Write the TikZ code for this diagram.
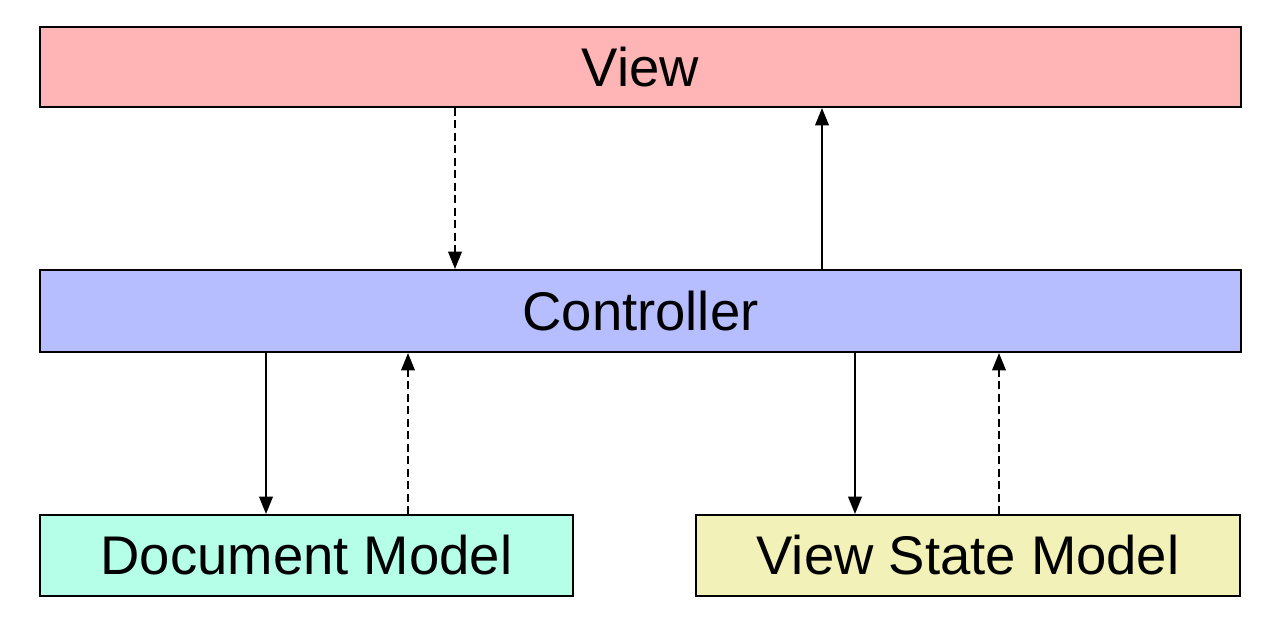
\documentclass[tikz,border=0pt]{standalone}
\usepackage{fontspec}
\setmainfont{Liberation Sans}
\usetikzlibrary{positioning,arrows.meta}

\definecolor{viewRed}{HTML}{FFB5B5}
\definecolor{ctrlBlue}{HTML}{B7BEFF}
\definecolor{docGreen}{HTML}{B5FFE9}
\definecolor{stateYellow}{HTML}{F1F1B8}

\begin{document}
\begin{tikzpicture}[
    x=0.02cm, y=-0.02cm,
    font=\fontsize{31}{37}\selectfont,
    >={Triangle[length=3.5mm, width=2.7mm]},
    box/.style={draw, line width=1.1pt, inner sep=0pt, minimum height=16.2mm},
    wide/.style={box, minimum width=240.2mm},
    call/.style={->, line width=1.35pt},
    notify/.style={->, line width=1.35pt, dash pattern=on 4.5pt off 2.6pt},
  ]
  \useasboundingbox (0,0) rectangle (1264,616);

  % ============ Livelli ============
  \node[wide, fill=viewRed, minimum height=16mm] (view) at (640.5,67) {View};
  \node[wide, fill=ctrlBlue, minimum height=16.4mm] (ctrl) at (640.5,311) {Controller};
  \node[box, fill=docGreen, minimum width=106.6mm] (docM) at (306.5,555.5) {Document Model};
  \node[box, fill=stateYellow, minimum width=108.8mm] (stateM) at (968,555.5) {View State Model};

  % ============ View <-> Controller ============
  \draw[notify] (view.south -| 455,0) -- (ctrl.north -| 455,0);
  \draw[call] (ctrl.north -| 822,0) -- (view.south -| 822,0);

  % ============ Controller <-> modelli ============
  \draw[call] (ctrl.south -| 266,0) -- (docM.north -| 266,0);
  \draw[notify] (docM.north -| 408,0) -- (ctrl.south -| 408,0);
  \draw[call] (ctrl.south -| 855,0) -- (stateM.north -| 855,0);
  \draw[notify] (stateM.north -| 999,0) -- (ctrl.south -| 999,0);

\end{tikzpicture}
\end{document}
